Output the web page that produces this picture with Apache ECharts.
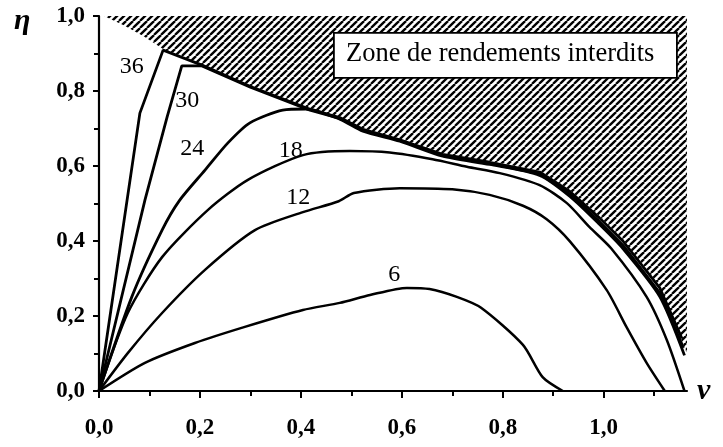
<!DOCTYPE html>
<html>
<head>
<meta charset="utf-8">
<script src="https://cdn.jsdelivr.net/npm/echarts@6/dist/echarts.min.js"></script>
<style>html,body{margin:0;padding:0;background:#fff}#c{width:723px;height:447px}</style>
</head>
<body>
<div id="c"></div>
<script>
// ---- data (v, eta) ----
const curve36 = [[0,0],[0.081,0.741],[0.127,0.909],[0.204,0.869],[0.30,0.812],[0.418,0.751],[0.477,0.729],[0.523,0.698],[0.596,0.670],[0.681,0.631],[0.774,0.610],[0.873,0.584],[0.933,0.532],[0.992,0.461],[1.038,0.400],[1.111,0.275],[1.155,0.14]];
const curve30 = [[0,0],[0.091,0.509],[0.135,0.731],[0.164,0.867],[0.204,0.867],[0.30,0.810],[0.418,0.749],[0.477,0.727],[0.523,0.695],[0.596,0.668],[0.681,0.628],[0.774,0.607],[0.873,0.579],[0.933,0.525],[0.992,0.451],[1.038,0.389],[1.111,0.262],[1.158,0.115]];
const curve24 = [[0,0],[0.065,0.251],[0.125,0.429],[0.160,0.509],[0.210,0.589],[0.255,0.661],[0.299,0.715],[0.364,0.749],[0.41,0.752],[0.477,0.725],[0.523,0.693],[0.596,0.666],[0.681,0.626],[0.774,0.604],[0.873,0.575],[0.933,0.519],[0.992,0.444],[1.038,0.380],[1.111,0.252],[1.16,0.095]];
const curve18 = [[0,0],[0.057,0.208],[0.125,0.357],[0.216,0.483],[0.295,0.563],[0.404,0.629],[0.497,0.640],[0.576,0.636],[0.661,0.618],[0.729,0.598],[0.794,0.581],[0.873,0.549],[0.927,0.501],[0.972,0.437],[1.015,0.38],[1.085,0.251],[1.125,0.136],[1.16,0]];
const curve12 = [[0,0],[0.057,0.101],[0.125,0.208],[0.210,0.323],[0.309,0.429],[0.404,0.477],[0.475,0.506],[0.505,0.528],[0.596,0.541],[0.70,0.538],[0.774,0.523],[0.840,0.494],[0.887,0.458],[0.933,0.399],[1.006,0.269],[1.045,0.171],[1.085,0.075],[1.121,0]];
const curve6 = [[0,0],[0.091,0.075],[0.190,0.128],[0.289,0.171],[0.404,0.216],[0.477,0.235],[0.537,0.256],[0.610,0.275],[0.655,0.272],[0.709,0.251],[0.757,0.222],[0.840,0.123],[0.879,0.037],[0.919,0]];
// lower edge of the forbidden zone
const forbiddenEdge = [[0.01,1.0],[0.05,0.975],[0.09,0.945],[0.127,0.912],[0.204,0.872],[0.30,0.815],[0.418,0.754],[0.477,0.732],[0.523,0.701],[0.596,0.673],[0.681,0.634],[0.774,0.613],[0.873,0.588],[0.933,0.536],[0.992,0.466],[1.038,0.405],[1.111,0.28],[1.165,0.10]];
const forbiddenTop = 1.0, forbiddenRight = 1.165;
const curveLabels = [[0.065,0.865,'36'],[0.175,0.775,'30'],[0.185,0.645,'24'],[0.38,0.64,'18'],[0.395,0.515,'12'],[0.585,0.309,'6']];
const xTicks = [0,0.2,0.4,0.6,0.8,1.0];
const xMinorTicks = [0.1,0.3,0.5,0.7,0.9,1.1];
const zoneText = 'Zone de rendements interdits';

// ---- hatch pattern ----
const pc = document.createElement('canvas');
pc.width = 7; pc.height = 7;
const g = pc.getContext('2d');
g.strokeStyle = '#000'; g.lineWidth = 2.3;
for (const k of [-7,0,7]) { g.beginPath(); g.moveTo(k,7); g.lineTo(k+7,0); g.stroke(); }

const FONT = '"Liberation Serif","Times New Roman",serif';
const fmt = v => (Math.round(v*10)/10).toFixed(1).replace('.', ',');

const chart = echarts.init(document.getElementById('c'), null, {renderer:'canvas'});
function lineSeries(name, data, smooth, w) {
  return {name, type:'line', data, showSymbol:false, smooth, z:5,
    lineStyle:{color:'#000', width:w||2.5}};
}
chart.setOption({
  animation:false,
  backgroundColor:'#fff',
  grid:{left:99, top:16, width:588, height:375, containLabel:false},
  xAxis:[{
    type:'value', min:0, max:forbiddenRight,
    axisLine:{lineStyle:{color:'#000', width:2.2}},
    axisTick:{customValues:xTicks, length:7, lineStyle:{color:'#000', width:2}},
    axisLabel:{customValues:xTicks, formatter:fmt, margin:26, color:'#000', fontFamily:FONT, fontSize:23, fontWeight:'bold'},
    splitLine:{show:false}
  },{
    type:'value', min:0, max:forbiddenRight, position:'bottom',
    axisLine:{show:false},
    axisTick:{customValues:xMinorTicks, length:5, lineStyle:{color:'#000', width:2}},
    axisLabel:{show:false}, splitLine:{show:false}
  }],
  yAxis:{
    type:'value', min:0, max:1.0, interval:0.2,
    axisLine:{show:true, lineStyle:{color:'#000', width:2.2}},
    axisTick:{show:true, inside:false, length:6, lineStyle:{color:'#000', width:2}},
    minorTick:{show:true, splitNumber:2, length:5, lineStyle:{color:'#000', width:2}},
    axisLabel:{formatter:fmt, margin:14, color:'#000', fontFamily:FONT, fontSize:23, fontWeight:'bold'},
    splitLine:{show:false}
  },
  series:[
    {type:'custom', name:'zone', z:1, data:[0], silent:true,
      renderItem:function(params, api){
        const pts = forbiddenEdge.map(p => api.coord(p));
        pts.push(api.coord([forbiddenRight, forbiddenEdge[forbiddenEdge.length-1][1]]));
        pts.push(api.coord([forbiddenRight, forbiddenTop]));
        pts.push(api.coord([forbiddenEdge[0][0], forbiddenTop]));
        return {type:'polygon', shape:{points:pts}, style:{fill:{image:pc, repeat:'repeat'}, stroke:null}};
      }},
    lineSeries('36', curve36, false, 2.8),
    lineSeries('30', curve30, false, 2.8),
    lineSeries('24', curve24, 0.25, 2.8),
    lineSeries('18', curve18, 0.25),
    lineSeries('12', curve12, 0.25),
    lineSeries('6', curve6, 0.25),
    {type:'scatter', name:'labels', data:curveLabels, symbolSize:0, z:6, silent:true,
      itemStyle:{opacity:1},
      label:{show:true, position:'inside', formatter:p => p.value[2], color:'#000', opacity:1, textBorderWidth:0, fontFamily:FONT, fontSize:24}}
  ],
  graphic:[
    {type:'rect', left:333, top:32, shape:{width:343, height:45}, style:{fill:'#fff', stroke:'#000', lineWidth:1.8}, z:100},
    {type:'text', left:346, top:41, style:{text:zoneText, fill:'#000', font:'26.5px '+FONT}, z:101},
    {type:'text', left:14, top:6, style:{text:'η', fill:'#000', font:'italic bold 30px '+FONT}, z:101},
    {type:'text', left:697, top:376, style:{text:'v', fill:'#000', font:'italic bold 30px '+FONT}, z:101}
  ]
});
</script>
</body>
</html>
